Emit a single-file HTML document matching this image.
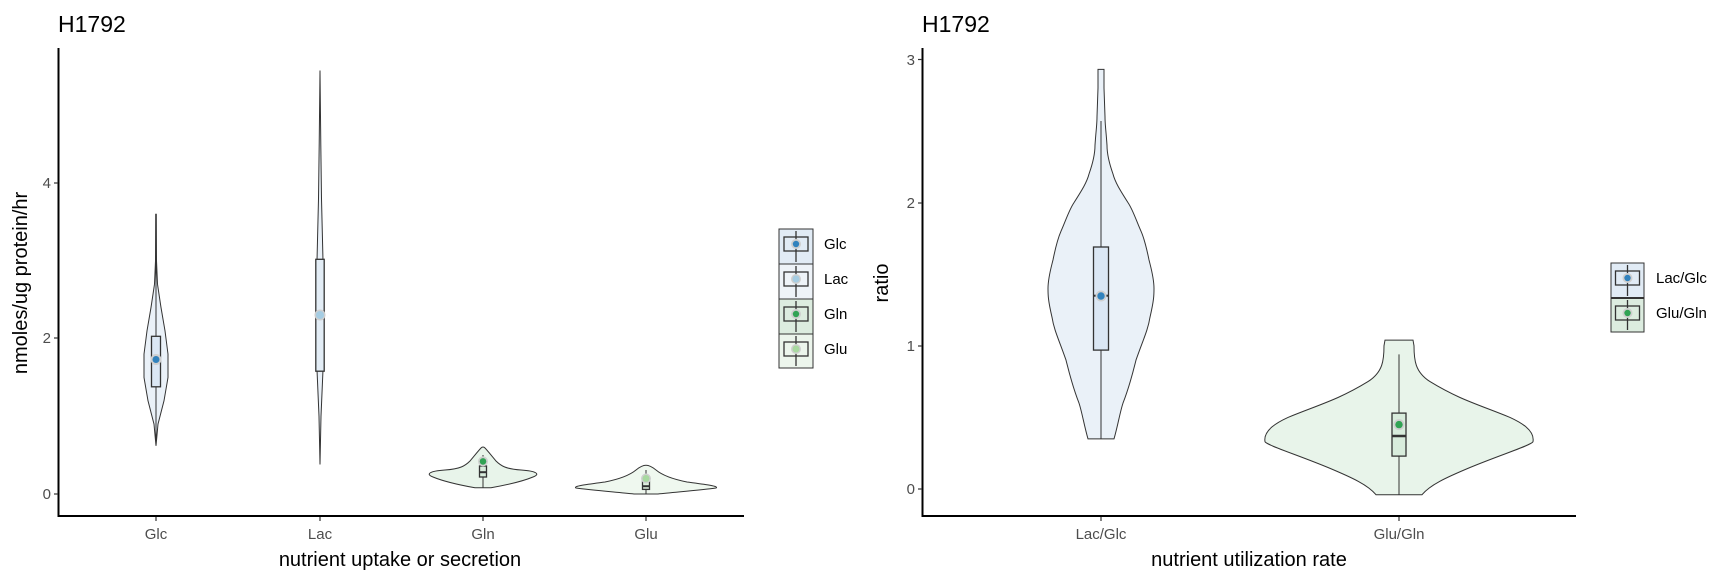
<!DOCTYPE html>
<html><head><style>
body{margin:0;background:#fff}
svg text{font-family:"Liberation Sans",sans-serif}
</style></head><body>
<svg width="1728" height="576" viewBox="0 0 1728 576" xmlns="http://www.w3.org/2000/svg">
<rect width="1728" height="576" fill="#fff"/>
<!-- LEFT PANEL -->
<text x="58" y="32" font-size="23" fill="#000">H1792</text>
<line x1="58.5" y1="48" x2="58.5" y2="517" stroke="#000" stroke-width="2"/>
<line x1="57.5" y1="516" x2="744" y2="516" stroke="#000" stroke-width="2"/>
<g font-size="15" fill="#4d4d4d" text-anchor="end">
<text x="51" y="499">0</text><text x="51" y="343">2</text><text x="51" y="188">4</text>
</g>
<g stroke="#333" stroke-width="1.2">
<line x1="54" y1="494" x2="58" y2="494"/><line x1="54" y1="338" x2="58" y2="338"/><line x1="54" y1="183" x2="58" y2="183"/>
<line x1="156" y1="517" x2="156" y2="521"/><line x1="320" y1="517" x2="320" y2="521"/><line x1="483" y1="517" x2="483" y2="521"/><line x1="646" y1="517" x2="646" y2="521"/>
</g>
<g font-size="15" fill="#4d4d4d" text-anchor="middle">
<text x="156" y="539">Glc</text><text x="320" y="539">Lac</text><text x="483" y="539">Gln</text><text x="646" y="539">Glu</text>
</g>
<text x="400" y="566" font-size="20" text-anchor="middle" fill="#000">nutrient uptake or secretion</text>
<text transform="translate(27,283) rotate(-90)" font-size="20" text-anchor="middle" fill="#000">nmoles/ug protein/hr</text>

<!-- Glc violin -->
<polygon fill="#eaf1f8" stroke="#333" stroke-width="1" points="156,445.8 158,424.1 164,400.8 168,377.5 168,354.1 165,330.8 161,307.5 157.5,284.2 156.5,260.9 156.3,214.3 155.7,214.3 155.5,260.9 154.5,284.2 151,307.5 147,330.8 144,354.1 144,377.5 148,400.8 154,424.1"/>
<line x1="156" y1="445" x2="156" y2="214.3" stroke="#333"/>
<rect x="151.5" y="336.3" width="9" height="50.5" fill="#dbe7f4" stroke="#333" stroke-width="1.3"/>
<circle cx="156" cy="359.5" r="5.5" fill="#cfcfcf"/><circle cx="156" cy="359.5" r="3.5" fill="#3182bd"/>
<!-- Lac violin -->
<polygon fill="#eaf1f8" stroke="#333" stroke-width="1" points="320,464.5 321,416.3 323,369.7 324,315.3 323,260.9 321.5,198.7 320.8,144.4 320,70.5 319.2,144.4 318.5,198.7 317,260.9 316,315.3 317,369.7 319,416.3"/>
<rect x="315.8" y="259.3" width="8.4" height="111.9" fill="#e3edf6" stroke="#333" stroke-width="1.3"/>
<circle cx="320" cy="315" r="5.5" fill="#cfcfcf"/><circle cx="320" cy="315" r="4" fill="#a6cde3"/>
<!-- Gln violin -->
<path fill="#e8f4ea" stroke="#333" stroke-width="1" d="M475,487.8 C465,486 445,482 433,477 C425,474 430,471 445,470 C460,469 465,466 470,461 C475,455 479,450 481,448 Q483,446 485,448 C487,450 491,455 496,461 C501,466 506,469 521,470 C536,471 541,474 533,477 C521,482 501,486 491,487.8 Z"/>
<line x1="483" y1="487.8" x2="483" y2="455" stroke="#333"/>
<rect x="479.5" y="466" width="7" height="11" fill="#d8ecdc" stroke="#333" stroke-width="1.3"/>
<line x1="479.5" y1="472.2" x2="486.5" y2="472.2" stroke="#333" stroke-width="2"/>
<circle cx="483" cy="461.4" r="5" fill="#cfcfcf"/><circle cx="483" cy="461.4" r="3.3" fill="#31a354"/>
<!-- Glu violin -->
<path fill="#eff8ef" stroke="#333" stroke-width="1" d="M634,494 C615,492 590,490 576,488 C572,486 590,484 605,482 C620,479 630,475 636,470 C641,466 644,465.3 646,465.3 C648,465.3 651,466 656,470 C662,475 672,479 687,482 C702,484 720,486 716,488 C702,490 677,492 658,494 Z"/>
<line x1="646" y1="494" x2="646" y2="470" stroke="#333"/>
<rect x="642.5" y="481.6" width="7" height="7.8" fill="#dff0de" stroke="#333" stroke-width="1.3"/>
<line x1="642.5" y1="486.2" x2="649.5" y2="486.2" stroke="#333" stroke-width="2"/>
<circle cx="646" cy="478.5" r="5" fill="#cfcfcf"/><circle cx="646" cy="478.5" r="3.5" fill="#a8d9a0"/>

<!-- Left legend -->
<g stroke="#333">
<rect x="779" y="229" width="34" height="35" fill="#e1ebf5" stroke-width="1"/>
<rect x="779" y="264" width="34" height="35" fill="#eef3f8" stroke-width="1"/>
<rect x="779" y="299" width="34" height="35" fill="#dcecdf" stroke-width="1"/>
<rect x="779" y="334" width="34" height="34" fill="#ecf5ec" stroke-width="1"/>
<g stroke-width="1.3" fill="none">
<line x1="796" y1="231" x2="796" y2="262"/><rect x="784" y="237" width="24" height="14"/>
<line x1="796" y1="266" x2="796" y2="297"/><rect x="784" y="272" width="24" height="14"/>
<line x1="796" y1="301" x2="796" y2="332"/><rect x="784" y="307" width="24" height="14"/>
<line x1="796" y1="336" x2="796" y2="366"/><rect x="784" y="342" width="24" height="14"/>
</g></g>
<circle cx="796" cy="244" r="5" fill="#cfcfcf"/><circle cx="796" cy="244" r="3.2" fill="#3182bd"/>
<circle cx="796" cy="279" r="5" fill="#cfcfcf"/><circle cx="796" cy="279" r="3.5" fill="#a6cde3"/>
<circle cx="796" cy="314" r="5" fill="#cfcfcf"/><circle cx="796" cy="314" r="3.2" fill="#31a354"/>
<circle cx="796" cy="349" r="5" fill="#cfcfcf"/><circle cx="796" cy="349" r="3.5" fill="#a8d9a0"/>
<g font-size="15" fill="#000">
<text x="824" y="249">Glc</text><text x="824" y="284">Lac</text><text x="824" y="319">Gln</text><text x="824" y="354">Glu</text>
</g>

<!-- RIGHT PANEL -->
<text x="922" y="32" font-size="23" fill="#000">H1792</text>
<line x1="922.5" y1="48" x2="922.5" y2="517" stroke="#000" stroke-width="2"/>
<line x1="921.5" y1="516" x2="1576" y2="516" stroke="#000" stroke-width="2"/>
<g font-size="15" fill="#4d4d4d" text-anchor="end">
<text x="915" y="494">0</text><text x="915" y="351">1</text><text x="915" y="208">2</text><text x="915" y="65">3</text>
</g>
<g stroke="#333" stroke-width="1.2">
<line x1="918" y1="489" x2="922" y2="489"/><line x1="918" y1="346" x2="922" y2="346"/><line x1="918" y1="203" x2="922" y2="203"/><line x1="918" y1="59.5" x2="922" y2="59.5"/>
<line x1="1101" y1="517" x2="1101" y2="521"/><line x1="1399" y1="517" x2="1399" y2="521"/>
</g>
<g font-size="15" fill="#4d4d4d" text-anchor="middle">
<text x="1101" y="539">Lac/Glc</text><text x="1399" y="539">Glu/Gln</text>
</g>
<text x="1249" y="566" font-size="20" text-anchor="middle" fill="#000">nutrient utilization rate</text>
<text transform="translate(888,283) rotate(-90)" font-size="20" text-anchor="middle" fill="#000">ratio</text>

<!-- Lac/Glc -->
<path fill="#eaf1f8" stroke="#333" stroke-width="1" d="M1088,438.9 C1095,438.9 1107,438.9 1114,438.9 C1118,425 1120,412 1123,403.1 C1130,385 1133,372 1136,360.1 C1143,340 1148,330 1150,317.2 C1154,300 1154,295 1154,288.5 C1154,278 1151,268 1149,259.9 C1146,245 1144,238 1141,231.2 C1136,220 1133,210 1128,202.6 C1120,190 1115,182 1113,174 C1108,160 1107,150 1107,145.3 C1106,130 1105,125 1105,116.7 L1104,88 L1104,69.4 L1098,69.4 L1098,88 L1097,116.7 C1097,125 1096,130 1095,145.3 C1095,150 1094,160 1089,174 C1087,182 1082,190 1074,202.6 C1069,210 1066,220 1061,231.2 C1058,238 1056,245 1053,259.9 C1051,268 1048,278 1048,288.5 C1048,295 1048,300 1052,317.2 C1054,330 1059,340 1066,360.1 C1069,372 1072,385 1079,403.1 C1082,412 1084,425 1088,438.9 Z"/>
<line x1="1101" y1="438.9" x2="1101" y2="121" stroke="#333"/>
<rect x="1093.5" y="247" width="15" height="103.1" fill="#dbe7f4" stroke="#333" stroke-width="1.3"/>
<line x1="1093.5" y1="295.7" x2="1108.5" y2="295.7" stroke="#333" stroke-width="2"/>
<circle cx="1101" cy="296" r="5.5" fill="#cfcfcf"/><circle cx="1101" cy="296" r="3.7" fill="#3182bd"/>
<!-- Glu/Gln -->
<path fill="#e8f4ea" stroke="#333" stroke-width="1" d="M1376,494.7 L1422,494.7 C1430,485 1445,478 1470,467.5 C1500,455 1532,445 1533,441.7 C1535,430 1520,422 1510,417.4 C1480,405 1460,400 1430,381.6 C1415,372 1414,360 1414,345.8 L1413,340.1 L1385,340.1 L1384,345.8 C1384,360 1383,372 1368,381.6 C1338,400 1318,405 1288,417.4 C1278,422 1263,430 1265,441.7 C1266,445 1298,455 1328,467.5 C1353,478 1368,485 1376,494.7 Z"/>
<line x1="1399" y1="494.7" x2="1399" y2="354.4" stroke="#333"/>
<rect x="1392" y="413.1" width="14" height="43" fill="#d8ecdc" stroke="#333" stroke-width="1.3"/>
<line x1="1392" y1="436" x2="1406" y2="436" stroke="#333" stroke-width="2.5"/>
<circle cx="1399" cy="424.6" r="5.5" fill="#cfcfcf"/><circle cx="1399" cy="424.6" r="3.7" fill="#31a354"/>

<!-- Right legend -->
<g stroke="#333">
<rect x="1611" y="263" width="33" height="35" fill="#e1ebf5" stroke-width="1"/>
<rect x="1611" y="298" width="33" height="34" fill="#dcecdf" stroke-width="1"/>
<line x1="1611" y1="298" x2="1644" y2="298" stroke-width="2"/>
<g stroke-width="1.3" fill="none">
<line x1="1627.5" y1="265" x2="1627.5" y2="296"/><rect x="1615.5" y="271" width="24" height="14"/>
<line x1="1627.5" y1="300" x2="1627.5" y2="330"/><rect x="1615.5" y="306" width="24" height="14"/>
</g></g>
<circle cx="1627.5" cy="278" r="5" fill="#cfcfcf"/><circle cx="1627.5" cy="278" r="3.2" fill="#3182bd"/>
<circle cx="1627.5" cy="313" r="5" fill="#cfcfcf"/><circle cx="1627.5" cy="313" r="3.2" fill="#31a354"/>
<g font-size="15" fill="#000">
<text x="1656" y="283">Lac/Glc</text><text x="1656" y="318">Glu/Gln</text>
</g>
</svg>
</body></html>
